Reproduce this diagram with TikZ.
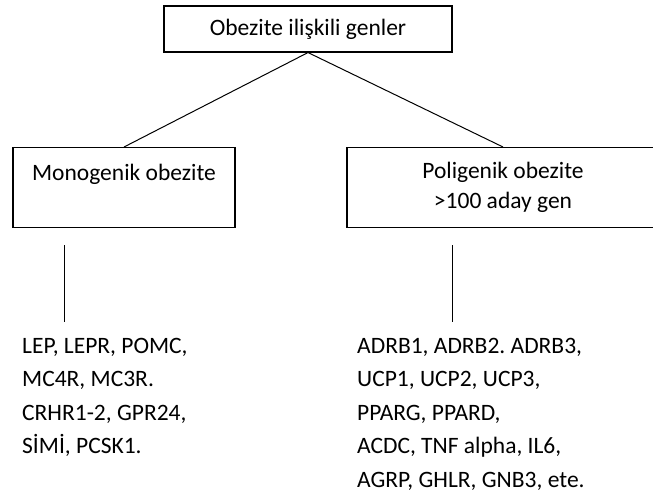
\documentclass[tikz,border=0pt]{standalone}
\usepackage{fontspec}
\setmainfont{Carlito}
\frenchspacing
\usetikzlibrary{positioning}

\tikzset{
    genbox/.style={draw, line width=1.1pt, align=center, font=\fontsize{23.5}{30}\selectfont},
    genlist/.style={anchor=north west, align=left, inner sep=0pt, font=\fontsize{23.5}{33.5}\selectfont},
    link/.style={line width=1pt}
}

\begin{document}
\begin{tikzpicture}[x=1pt, y=-1pt]
    \clip (0,0) rectangle (653,495);

    % Boxes
    \node[genbox, minimum width=288pt, minimum height=46pt] (root) at (308,29) {Obezite ilişkili genler};
    \node[genbox, minimum width=222pt, minimum height=80pt, anchor=north] (mono) at (124,147)
        {Monogenik obezite\\\phantom{x}};
    \node[genbox, minimum width=312pt, minimum height=80pt, anchor=north] (poly) at (503,147)
        {Poligenik obezite\\>100 aday gen};

    \draw[link] (root.south) -- (mono.north);
    \draw[link] (root.south) -- (poly.north);

    % Vertical ticks
    \coordinate (monotop) at (64,245);
    \coordinate (monobot) at (64,322);
    \coordinate (polytop) at (452,245);
    \coordinate (polybot) at (452,322);
    \draw[link] (monotop) -- (monobot);
    \draw[link] (polytop) -- (polybot);

    % Gene lists
    \node[genlist] (monolist) at (22,338) {LEP, LEPR, POMC,\\MC4R, MC3R.\\CRHR1-2, GPR24,\\SİMİ, PCSK1.};
    \node[genlist] (polylist) at (357,338) {ADRB1, ADRB2. ADRB3,\\UCP1, UCP2, UCP3,\\PPARG, PPARD,\\ACDC, TNF alpha, IL6,\\AGRP, GHLR, GNB3, ete.};
\end{tikzpicture}
\end{document}
